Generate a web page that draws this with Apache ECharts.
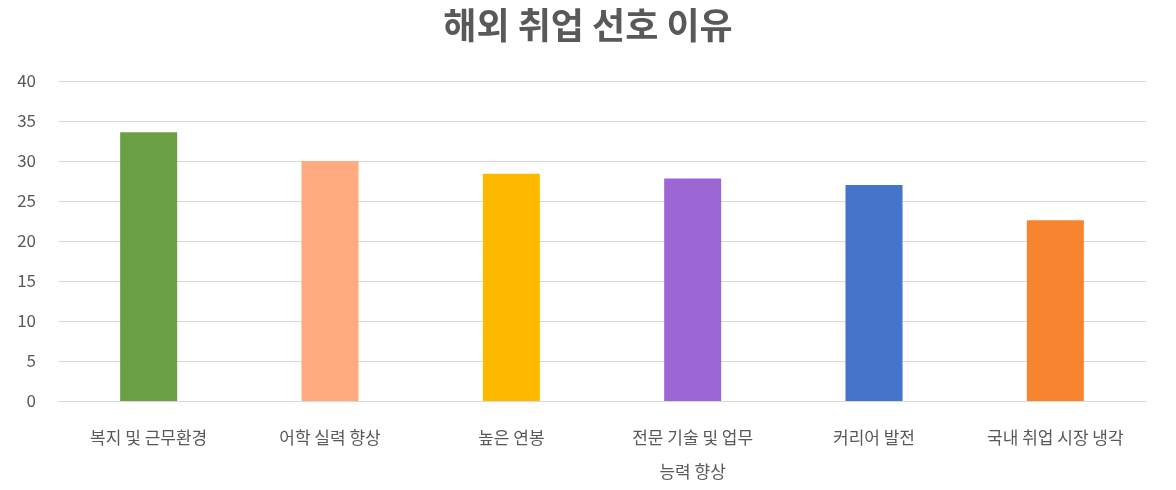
<!DOCTYPE html>
<html><head><meta charset="utf-8">
<script src="https://cdn.jsdelivr.net/npm/echarts@6/dist/echarts.min.js"></script>
<style>html,body{margin:0;padding:0;background:#fff}#c{width:1176px;height:490px}</style>
</head><body><div id="c"></div>
<script>
const categories=['복지 및 근무환경','어학 실력 향상','높은 연봉','전문 기술 및 업무\n능력 향상','커리어 발전','국내 취업 시장 냉각'];
const values=[33.6,30.0,28.4,27.8,27.0,22.6];
const colors=['#6a9f45','#ffab7f','#ffba00','#9c66d4','#4473c9','#f7852f'];
const chart=echarts.init(document.getElementById('c'));
chart.setOption({
  title:{text:'해외 취업 선호 이유',left:'center',top:2,textStyle:{fontFamily:'Noto Sans CJK KR',fontSize:36,fontWeight:'bold',color:'#595959'}},
  grid:{left:58,right:30,top:81,bottom:89},
  xAxis:{type:'category',data:categories,axisTick:{show:false},axisLine:{lineStyle:{color:'#d9d9d9'}},
    axisLabel:{fontFamily:'Noto Sans CJK KR',fontSize:17,color:'#595959',margin:20,lineHeight:34}},
  yAxis:{type:'value',min:0,max:40,interval:5,axisLine:{show:false},axisTick:{show:false},
    splitLine:{lineStyle:{color:'#d9d9d9'}},axisLabel:{fontFamily:'Noto Sans CJK KR',fontSize:17,color:'#595959',margin:22}},
  series:[{type:'bar',barWidth:57,data:values.map((v,i)=>({value:v,itemStyle:{color:colors[i]}}))}]
});
</script></body></html>
